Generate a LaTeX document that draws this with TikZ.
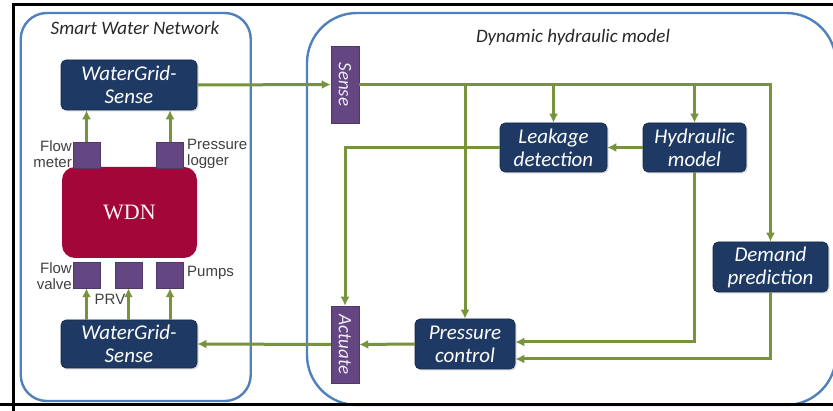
\documentclass[tikz,border=0pt]{standalone}
\usepackage{fontspec}
\setmainfont{Carlito}
\newfontfamily\labelfont{Liberation Sans}
\newfontfamily\wdnfont{Liberation Serif}
\usetikzlibrary{arrows.meta,shadows}
\definecolor{navy}{RGB}{30,58,100}
\definecolor{portpurple}{RGB}{100,70,130}
\definecolor{wdnred}{RGB}{163,6,56}
\definecolor{flowgreen}{RGB}{119,147,60}
\definecolor{frameblue}{RGB}{79,129,189}
\definecolor{labelgray}{RGB}{64,64,64}
\definecolor{titlegray}{RGB}{40,40,40}

\begin{document}
\begin{tikzpicture}[
        x=1pt,
        y=-1pt,
        >={Latex[length=9pt,width=9pt]},
        every node/.style={align=center},
        frame/.style={draw=frameblue, line width=2.4pt, inner sep=0pt},
        block/.style={draw=navy!70!black, line width=0.6pt, fill=navy, rounded corners=5pt, text=white, inner sep=0pt,
            font=\fontsize{21}{23}\selectfont\itshape,
            drop shadow={opacity=0.3, shadow xshift=1.5pt, shadow yshift=-1.5pt}},
        port/.style={draw=portpurple!80!black, line width=0.5pt, fill=portpurple, inner sep=0pt, minimum width=27pt, minimum height=26pt},
        bar/.style={port, minimum width=28pt, minimum height=77pt, text=white!90!portpurple, font=\fontsize{19}{21}\selectfont\itshape},
        tag/.style={text=labelgray, inner sep=1pt, font=\labelfont\fontsize{15}{15.5}\selectfont},
        heading/.style={text=titlegray, font=\fontsize{19}{22}\selectfont\itshape},
        flow/.style={->, draw=flowgreen, line width=3pt}
    ]
        \path[use as bounding box, fill=white] (0,0) rectangle (833,411);

        \node[frame, rounded corners=26pt, minimum width=230pt, minimum height=388pt] (swn) at (135.75,207) {};
        \node[frame, rounded corners=50pt, minimum width=529pt, minimum height=392pt] (dhm) at (571.5,209) {};
        \node[heading] (swntitle) at (135,28) {Smart Water Network};
        \node[heading] (dhmtitle) at (573,37) {Dynamic hydraulic model};

        \node[block, minimum width=136pt, minimum height=50pt] (wgtop) at (129,85) {WaterGrid-\\Sense};
        \node[block, minimum width=136pt, minimum height=48pt] (wgbot) at (129,344) {WaterGrid-\\Sense};
        \node[fill=wdnred, rounded corners=13pt, minimum width=135pt, minimum height=91pt, text=white!92!pink,
            font=\wdnfont\fontsize{22}{24}\selectfont] (wdn) at (129.5,212.5) {WDN};
        \node[port] (fm) at (86.5,155) {};
        \node[port] (pl) at (170,155) {};
        \node[port] (fv) at (86.5,275) {};
        \node[port] (prv) at (128.5,275) {};
        \node[port] (pump) at (170,275) {};
        \node[tag, anchor=east, align=right] (fmtag) at (73,154) {Flow\\meter};
        \node[tag, anchor=west, align=left] (pltag) at (186,154) {Pressure\\logger};
        \node[tag, anchor=east, align=right] (fvtag) at (73,276) {Flow\\valve};
        \node[tag, anchor=west] (pumptag) at (186,273) {Pumps};
        \node[tag] (prvtag) at (110,299) {PRV};
        \foreach \s in {fm,pl} {
            \draw[flow] (\s.north) -- (\s.north |- wgtop.south);
        }
        \foreach \s in {fv,prv,pump} {
            \draw[flow] (\s.south |- wgbot.north) -- (\s.south);
        }

        \node[bar] (sense) at (345,84.5) {\rotatebox{-90}{Sense}};
        \node[bar] (actuate) at (345,344.5) {\rotatebox{-90}{Actuate}};
        \node[block, minimum width=107pt, minimum height=49pt] (leak) at (553.5,147.5) {Leakage\\detection};
        \node[block, minimum width=103pt, minimum height=49pt] (hyd) at (694.5,147.5) {Hydraulic\\model};
        \node[block, minimum width=115pt, minimum height=50pt] (demand) at (770.5,267) {Demand\\prediction};
        \node[block, minimum width=100pt, minimum height=50pt] (pc) at (465,344) {Pressure\\control};

        \draw[flow] (wgtop.east) -- (sense.west);
        \draw[flow] (actuate.west) -- (wgbot.east);
        \draw[flow] (sense.east) -| (demand.north);
        \foreach \n in {pc,leak,hyd} {
            \draw[flow] (sense.east -| \n.north) -- (\n.north);
        }
        \draw[flow] (hyd.west) -- (leak.east);
        \draw[flow] (leak.west) -| (actuate.north);
        \draw[flow] (pc.west) -- (actuate.east);
        \draw[flow] (hyd.south) |- ([yshift=2pt]pc.east);
        \draw[flow] (demand.south) |- ([yshift=-15pt]pc.east);

        \draw[line width=3pt] (12,5) -- (833,5);
        \draw[line width=3pt] (13,5) -- (13,411);
        \draw[line width=3pt] (0,405) -- (833,405);
    \end{tikzpicture}
\end{document}
